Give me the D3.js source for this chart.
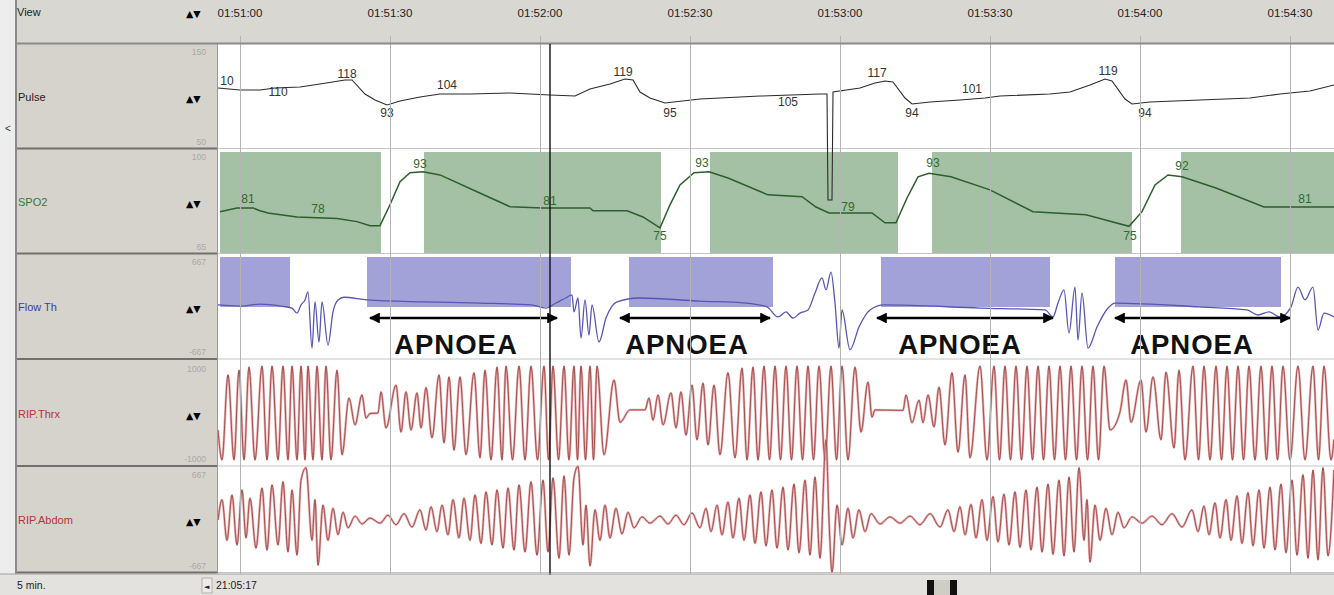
<!DOCTYPE html>
<html><head><meta charset="utf-8">
<script src="https://cdn.jsdelivr.net/npm/d3@7"></script>
<style>body{margin:0;background:#fff;overflow:hidden}svg{display:block}</style>
</head><body><svg id="c" width="1334" height="595"></svg>
<script>
// ---------- data ----------
const tickSeconds = [0, 30, 60, 90, 120, 150, 180, 210]; // seconds after 01:51:00
const tickLabels = ["01:51:00","01:51:30","01:52:00","01:52:30","01:53:00","01:53:30","01:54:00","01:54:30"];
const channelNames = ["Pulse","SPO2","Flow Th","RIP.Thrx","RIP.Abdom"];
const channelMax = ["150","100","667","1000","667"];
const channelMin = ["50","65","-667","-1000","-667"];
const cursorTime = 62;

const pulse = [[-4.4,110],[0,108],[4,108],[7,110],[12,111],[16,114],[21,118],[22.4,118],[25,104],[27,98],[29.4,93],[32,97],[36,101],[40,104],[46,104],[54,105],[62,103],[67,102],[70,109],[74,114],[77,119],[78.6,118],[80,106],[82,100],[85,95],[92,99],[104,102],[116,104],[117.4,104],[117.6,-2],[118.4,-2],[118.6,106],[124,110],[127,115],[129,117],[130.6,116],[133,100],[134.4,94],[138,96],[144,98],[149,100],[152,102],[162,104],[166,106],[170,113],[173,119],[174.4,117],[177,99],[178.4,94],[182,96],[192,98],[202,100],[208,104],[214,107],[218.8,113]];
const pulseLabels = [[-2.6,113,"10"],[7.6,102,"110"],[21.4,120,"118"],[29.4,81,"93"],[41.4,109,"104"],[76.6,122,"119"],[86,81,"95"],[109.6,92,"105"],[127.4,121,"117"],[134.4,81,"94"],[146.4,105,"101"],[173.6,123,"119"],[181,81,"94"]];

const spo2 = [[-4,80.2],[-0.6,81.4],[2.6,81.4],[4,80.5],[5.6,79.8],[11.4,78.5],[19.4,78],[23.4,77],[26,75.7],[28,75.7],[30,82.4],[32,89.8],[34,92.7],[36.6,93],[40,92],[47.4,86.6],[54,81.8],[60.6,81.4],[70,81.4],[70.6,80.5],[77.4,80.5],[80.6,78.5],[84,75],[86,82.4],[88,88.8],[90.8,92.7],[93.8,93],[97.6,91],[105.6,85.6],[112.4,85],[115.2,81.7],[117.8,79.8],[126.4,79.8],[129,76.6],[131.2,76.6],[133.4,84.6],[135.6,91.4],[137.8,92.5],[142.2,91.4],[150,87.2],[158.6,80.2],[169.2,79.2],[177.8,75.5],[180.4,80.2],[183,88.8],[185.6,92],[188.4,91.4],[195.2,87.8],[204.8,81.7],[218.8,81.7]];
const spo2Labels = [[1.6,83,"81"],[15.6,79.8,"78"],[36,94.3,"93"],[62,82.4,"81"],[84,71.1,"75"],[92.4,94.6,"93"],[121.6,80.5,"79"],[138.6,94.6,"93"],[178,71.1,"75"],[188.4,93.6,"92"],[213,83,"81"]];
const desatEvents = [[-4,28.2],[36.8,84.2],[94,131.6],[138.4,178.4],[188.2,218.8]];

const flow = [[-4.4,20],[0,5],[4,30],[8.2,5],[10.4,-20],[11.4,-85],[12.2,20],[13,85],[13.6,190],[14.4,-540],[15,60],[15.8,-460],[16.4,60],[17.6,-500],[18.6,-70],[19.6,85],[20.8,120],[25.4,85],[36.8,60],[48,45],[58.2,20],[61.2,-20],[63.2,45],[65.4,120],[66.4,150],[66.8,-70],[67.6,110],[68.2,-410],[69,85],[69.8,-370],[70.4,20],[71.8,-460],[73.2,-150],[75.4,60],[79.8,110],[92,70],[101.2,45],[105.4,-5],[107.6,-135],[109.2,-70],[110.6,-150],[112,-85],[113.6,-45],[115,175],[116.4,370],[117.2,215],[118.2,445],[119,45],[119.8,-540],[120.4,-45],[122,-560],[123.8,-265],[126,-45],[128.8,20],[148,-20],[161,-45],[162.6,-135],[163.6,45],[164.8,215],[165.8,-345],[167,250],[167.6,-435],[168.4,175],[169.6,-540],[171.4,-265],[173.6,-20],[175,45],[191.8,-5],[201.4,-45],[203.6,-110],[205.8,-70],[208,-135],[210.2,-5],[211.6,250],[213,85],[214.6,250],[215.6,-305],[216.8,-85],[218.8,-135]];
const flowEvents = [[-4,10],[25.4,66.2],[77.8,106.6],[128.2,162],[175,208.2]];
const apnoeas = [[26,63.4],[76,106],[127.4,162.6],[175,210]];
const apnoeaLabelTimes = [43.2, 89.4, 144, 190.4];
const apnoeaText = "APNOEA";

const thrx = [[-4.4,-320],[-3.6,-900],[-2.4,750],[-1.2,-900],[-0.2,840],[0.8,-900],[1.8,900],[3.0,-900],[4.4,920],[5.4,-900],[6.4,920],[7.6,-900],[8.6,920],[9.6,-900],[10.4,920],[11.4,-900],[12.2,920],[13.0,-900],[13.6,920],[14.6,-900],[15.4,920],[16.4,-900],[17.2,920],[18.2,-900],[19.4,840],[20.4,-800],[21.8,300],[23,-220],[24.4,360],[25.2,-90],[26,0],[27.6,10],[28.2,420],[29.2,-280],[31.2,550],[32.2,-360],[33.2,420],[34.2,-320],[35.4,400],[36.2,-280],[37.2,500],[38.4,-470],[39.8,750],[40.8,-570],[41.8,710],[42.8,-710],[44,710],[45.2,-800],[46.8,790],[48,-860],[49,840],[50.2,-900],[51.4,900],[52.4,-900],[53.2,920],[54.5,-900],[55.8,920],[57,-900],[58.2,920],[59.5,-900],[60.8,920],[61.7,-900],[62.6,920],[63.7,-900],[64.8,920],[65.8,-900],[66.8,920],[67.5,-900],[68.2,920],[69.1,-900],[70,920],[70.7,-900],[71.4,920],[72.8,-800],[74.8,650],[76,-170],[78,70],[81,70],[81.8,300],[82.6,-130],[83.6,360],[84.6,-220],[86.2,400],[87.2,-280],[88.2,420],[89.2,-420],[90.4,550],[91.4,-510],[92.6,590],[93.6,-610],[94.8,550],[96,-800],[97.6,790],[99,-860],[100.4,880],[101.4,-900],[102.6,900],[103.6,-900],[104.8,920],[105.9,-900],[107,920],[108.1,-900],[109.2,920],[110.3,-900],[111.4,920],[112.5,-900],[113.6,920],[114.7,-900],[115.8,920],[117,-900],[118.2,920],[119.3,-900],[120.4,920],[121.6,-900],[123,900],[124.2,-360],[125.6,610],[126.4,-70],[127,70],[132.6,60],[133.2,360],[134.4,-180],[135.8,260],[136.6,-180],[137.6,360],[138.8,-260],[139.8,510],[141,-610],[142.4,790],[143.6,-750],[145,750],[146,-860],[148,920],[149.4,-900],[150.8,920],[151.9,-900],[153,920],[154.1,-900],[155.2,920],[156.3,-900],[157.4,920],[158.5,-900],[159.6,920],[160.7,-900],[161.8,920],[162.9,-900],[164,920],[165.1,-900],[166.2,920],[167.3,-900],[168.4,920],[169.5,-900],[170.6,920],[171.7,-900],[172.8,920],[174,-320],[176,30],[177.2,650],[178.2,-170],[180.2,650],[181.2,-360],[182.6,710],[184.2,-510],[185.2,800],[186.8,-670],[187.8,840],[189,-900],[190.6,920],[191.7,-900],[192.8,920],[194,-900],[195.2,920],[196.3,-900],[197.4,920],[198.5,-900],[199.6,920],[200.7,-900],[201.8,920],[203,-900],[204.2,920],[205.3,-900],[206.4,920],[207.5,-900],[208.6,920],[210,-900],[211.6,920],[213,-900],[214.6,920],[215.7,-900],[216.8,920],[218.2,-900],[218.8,-500]];

const abdom = [[-4.4,0],[-3.6,260],[-2.6,-260],[-1.6,320],[-0.6,-320],[0.4,385],[1.2,-230],[2,280],[3.2,-360],[4.4,410],[5.4,-385],[6.4,450],[7.6,-320],[8.6,490],[9.6,-410],[10.4,385],[11.4,-450],[12.2,510],[13.2,670],[14.4,-260],[15,260],[15.6,-580],[16.6,190],[17.6,-260],[18.6,150],[19.6,-190],[20.6,100],[21.6,-100],[23,50],[24.4,-50],[26,25],[28,-40],[29.6,60],[31.2,-60],[32.8,80],[34.4,-90],[36,130],[37.2,-130],[38.2,170],[39.4,-150],[40.4,190],[41.6,-190],[42.6,260],[43.8,-230],[44.8,280],[46,-260],[47,320],[48.2,-300],[49.2,360],[50.4,-320],[51.4,385],[52.6,-360],[53.6,410],[54.8,-385],[55.8,450],[57,-410],[58.2,490],[59.4,-450],[60.6,510],[61.6,-410],[62.6,540],[63.8,-490],[64.8,565],[65.8,-450],[66.8,540],[67.6,690],[68.6,-320],[69.2,190],[70,-590],[71,130],[72,-260],[73,190],[74,-230],[75.2,150],[76.4,-180],[77.6,100],[78.8,-100],[80.4,40],[82,-40],[84,50],[85.6,-50],[87.2,60],[88.8,-60],[90.4,90],[92,-100],[93.2,150],[94.2,-150],[95.4,190],[96.4,-190],[97.6,230],[98.6,-230],[99.8,280],[100.8,-260],[102,320],[103,-300],[104.2,360],[105.2,-330],[106.4,385],[107.4,-360],[108.6,420],[109.6,-385],[110.8,460],[111.8,-420],[113,510],[114,-450],[115,550],[116,-490],[117.2,1030],[117.8,0],[118.4,-670],[119.4,190],[120.4,-320],[121.6,150],[122.6,-230],[123.8,130],[125,-150],[126.2,80],[128,-50],[130,40],[132,-40],[134,50],[136,-60],[138,80],[140,-90],[141.6,130],[142.8,-150],[144,170],[145,-190],[146.2,200],[147.2,-230],[148.4,260],[149.4,-260],[150.6,300],[151.6,-280],[152.8,330],[153.8,-320],[155,360],[156,-350],[157.2,385],[158.2,-385],[159.4,420],[160.4,-410],[161.6,460],[162.6,-440],[163.8,510],[164.8,-460],[165.8,550],[166.8,-410],[167.8,670],[168.8,-260],[169.4,260],[170,-540],[171,190],[172,-260],[173.2,150],[174.4,-190],[175.6,100],[176.8,-100],[178.4,40],[180.4,-40],[182.4,50],[184.4,-60],[186.4,80],[188.4,-90],[190.4,130],[191.6,-150],[192.8,180],[193.8,-190],[195,220],[196,-230],[197.2,260],[198.2,-260],[199.4,310],[200.4,-300],[201.6,350],[202.6,-330],[203.8,385],[204.8,-360],[206,420],[207,-385],[208.2,460],[209.2,-420],[210.4,510],[211.4,-450],[212.6,580],[213.6,-490],[214.6,640],[215.6,-510],[216.6,670],[217.6,-460],[218.8,640]];

// ---------- layout ----------
const svg = d3.select("#c");
const W = 1334, H = 595, plotL = 218, plotR = 1334;
const panels = [[45,148],[150,253],[255,358],[362,465],[468,572]];
const sepY = [148.5,253.5,359,466,572.5];
const labelColors = ["#222","#2f7d32","#3c3c9c","#b53434","#b53434"];
const font = "'Liberation Sans', Arial, sans-serif";

const x = d3.scaleLinear().domain([-4.4, 218.8]).range([plotL, plotR]);
const yPulse = d3.scaleLinear().domain([50,150]).range([148,48]);
const ySpo2 = d3.scaleLinear().domain([65,100]).range([259,150]);
const yFlow = d3.scaleLinear().domain([-667,667]).range([358,255]);
const yThrx = d3.scaleLinear().domain([-1000,1000]).range([465,362]);
const yAbd = d3.scaleLinear().domain([-667,667]).range([572,468]);

// backgrounds
svg.append("rect").attr("width",W).attr("height",H).attr("fill","#fff");
svg.append("rect").attr("x",0).attr("y",0).attr("width",W).attr("height",44).attr("fill","#d9d7d2");
svg.append("rect").attr("x",0).attr("y",0).attr("width",15).attr("height",H).attr("fill","#ededed");
svg.append("rect").attr("x",15).attr("y",44).attr("width",plotL-15).attr("height",530).attr("fill","#d6d3cd");
svg.append("rect").attr("x",0).attr("y",574).attr("width",W).attr("height",21).attr("fill","#e3e2de");

const defs = svg.append("defs");
defs.append("clipPath").attr("id","plotclip").append("rect").attr("x",plotL).attr("y",44).attr("width",plotR-plotL).attr("height",530);
defs.append("marker").attr("id","ah").attr("viewBox","0 0 10 10").attr("refX",9).attr("refY",5)
  .attr("markerWidth",4.2).attr("markerHeight",4.2).attr("orient","auto-start-reverse")
  .append("path").attr("d","M0,0L10,5L0,10Z").attr("fill","#000");

const plot = svg.append("g").attr("clip-path","url(#plotclip)");

// event rectangles
plot.selectAll(".desat").data(desatEvents).join("rect")
  .attr("x",d=>x(d[0])).attr("width",d=>x(d[1])-x(d[0])).attr("y",152).attr("height",101).attr("fill","#a5c1a5");
plot.selectAll(".flowev").data(flowEvents).join("rect")
  .attr("x",d=>x(d[0])).attr("width",d=>x(d[1])-x(d[0])).attr("y",257).attr("height",50).attr("fill","#a2a2d8");

// panel separators in plot
plot.selectAll(".psep").data(sepY).join("line")
  .attr("x1",plotL).attr("x2",plotR).attr("y1",d=>d).attr("y2",d=>d).attr("stroke","#c4c4c4").attr("stroke-width",1);

// gridlines
svg.selectAll(".grid").data(tickSeconds).join("line")
  .attr("x1",d=>x(d)+0.5).attr("x2",d=>x(d)+0.5).attr("y1",36).attr("y2",574)
  .attr("stroke","#b4b4b4").attr("stroke-width",1);

// header line
svg.append("line").attr("x1",15).attr("x2",W).attr("y1",43.5).attr("y2",43.5).attr("stroke","#8a8a8a").attr("stroke-width",2);

// traces
const lineMono = (ys) => d3.line().x(d=>x(d[0])).y(d=>ys(d[1])).curve(d3.curveMonotoneX);
const lineLin = (ys) => d3.line().x(d=>x(d[0])).y(d=>ys(d[1]));

plot.append("path").datum(pulse).attr("d",lineLin(yPulse)).attr("fill","none").attr("stroke","#2b2b2b").attr("stroke-width",1.1);
plot.append("path").datum(spo2).attr("d",lineLin(ySpo2)).attr("fill","none").attr("stroke","#2c5f2c").attr("stroke-width",1.5);
plot.append("path").datum(flow).attr("d",lineMono(yFlow)).attr("fill","none").attr("stroke","#5656b4").attr("stroke-width",1.3);
[[thrx,yThrx],[abdom,yAbd]].forEach(([data,ys])=>{
  plot.append("path").datum(data).attr("d",lineMono(ys)).attr("fill","none").attr("stroke","#e8adad").attr("stroke-width",2.4);
  plot.append("path").datum(data).attr("d",lineMono(ys)).attr("fill","none").attr("stroke","#9c4242").attr("stroke-width",0.9);
});

// value labels
plot.selectAll(".pl").data(pulseLabels).join("text")
  .attr("x",d=>x(d[0])).attr("y",d=>yPulse(d[1])).attr("text-anchor","middle")
  .attr("font-family",font).attr("font-size",12).attr("fill","#333").text(d=>d[2]);
plot.selectAll(".sl").data(spo2Labels).join("text")
  .attr("x",d=>x(d[0])).attr("y",d=>ySpo2(d[1])).attr("text-anchor","middle")
  .attr("font-family",font).attr("font-size",12).attr("fill","#2f6a2f").text(d=>d[2]);

// apnoea arrows + labels
plot.selectAll(".ap").data(apnoeas).join("line")
  .attr("x1",d=>x(d[0])).attr("x2",d=>x(d[1])).attr("y1",318).attr("y2",318)
  .attr("stroke","#000").attr("stroke-width",2.6).attr("marker-start","url(#ah)").attr("marker-end","url(#ah)");
plot.selectAll(".apt").data(apnoeaLabelTimes).join("text")
  .attr("x",d=>x(d)).attr("y",354).attr("text-anchor","middle")
  .attr("font-family",font).attr("font-weight","bold").attr("font-size",27.5).attr("letter-spacing",1)
  .attr("fill","#111").text(apnoeaText);

// cursor
svg.append("line").attr("x1",x(cursorTime)).attr("x2",x(cursorTime)).attr("y1",44).attr("y2",575).attr("stroke","#111").attr("stroke-width",1.4);

// header text
svg.selectAll(".tl").data(tickSeconds).join("text")
  .attr("x",(d)=>x(d)).attr("y",17).attr("text-anchor","middle")
  .attr("font-family",font).attr("font-size",11.5).attr("fill","#222").text((d,i)=>tickLabels[i]);
svg.append("rect").attr("x",15).attr("y",2).attr("width",192).attr("height",30).attr("fill","#d9d7d2");
svg.append("text").attr("x",17).attr("y",16).attr("font-family",font).attr("font-size",11).attr("fill","#222").text("View");
svg.append("text").attr("x",186).attr("y",17).attr("font-family","DejaVu Sans").attr("font-size",9.5).attr("fill","#000").text("▲▼");

// left panel
svg.selectAll(".lsep").data(sepY).join("line")
  .attr("x1",15).attr("x2",plotL).attr("y1",d=>d).attr("y2",d=>d).attr("stroke","#707070").attr("stroke-width",2);
svg.append("line").attr("x1",16).attr("x2",16).attr("y1",0).attr("y2",574).attr("stroke","#8a8a8a").attr("stroke-width",2);
svg.append("line").attr("x1",217.5).attr("x2",217.5).attr("y1",44).attr("y2",574).attr("stroke","#9a9a9a").attr("stroke-width",1);
svg.append("text").attr("x",5).attr("y",132).attr("font-family",font).attr("font-size",10).attr("fill","#333").text("<");

const ch = svg.selectAll(".ch").data(channelNames).join("g");
ch.append("text").attr("x",18).attr("y",(d,i)=>(panels[i][0]+panels[i][1])/2+4)
  .attr("font-family",font).attr("font-size",11).attr("fill",(d,i)=>labelColors[i]).text(d=>d);
ch.append("text").attr("x",186).attr("y",(d,i)=>(panels[i][0]+panels[i][1])/2+5)
  .attr("font-family","DejaVu Sans").attr("font-size",9.5).attr("fill","#000").text("▲▼");
ch.append("text").attr("x",206).attr("y",(d,i)=>panels[i][0]+10).attr("text-anchor","end")
  .attr("font-family",font).attr("font-size",8.5).attr("fill","#a8a8a8").text((d,i)=>channelMax[i]);
ch.append("text").attr("x",206).attr("y",(d,i)=>panels[i][1]-3).attr("text-anchor","end")
  .attr("font-family",font).attr("font-size",8.5).attr("fill","#a8a8a8").text((d,i)=>channelMin[i]);

// bottom bar
svg.append("line").attr("x1",0).attr("x2",W).attr("y1",574).attr("y2",574).attr("stroke","#a0a0a0");
svg.append("text").attr("x",17).attr("y",589).attr("font-family",font).attr("font-size",10.5).attr("fill","#222").text("5 min.");
svg.append("rect").attr("x",202).attr("y",578).attr("width",10).attr("height",15).attr("fill","#ecebe8").attr("stroke","#b0b0b0");
svg.append("text").attr("x",204).attr("y",589).attr("font-family","DejaVu Sans").attr("font-size",7).attr("fill","#222").text("◄");
svg.append("text").attr("x",216).attr("y",589).attr("font-family",font).attr("font-size",10.5).attr("fill","#222").text("21:05:17");
svg.append("rect").attr("x",927).attr("y",580).attr("width",7).attr("height",15).attr("fill","#111");
svg.append("rect").attr("x",934).attr("y",580).attr("width",16).attr("height",15).attr("fill","#cfcdc6");
svg.append("rect").attr("x",950).attr("y",580).attr("width",7).attr("height",15).attr("fill","#111");
</script></body></html>
